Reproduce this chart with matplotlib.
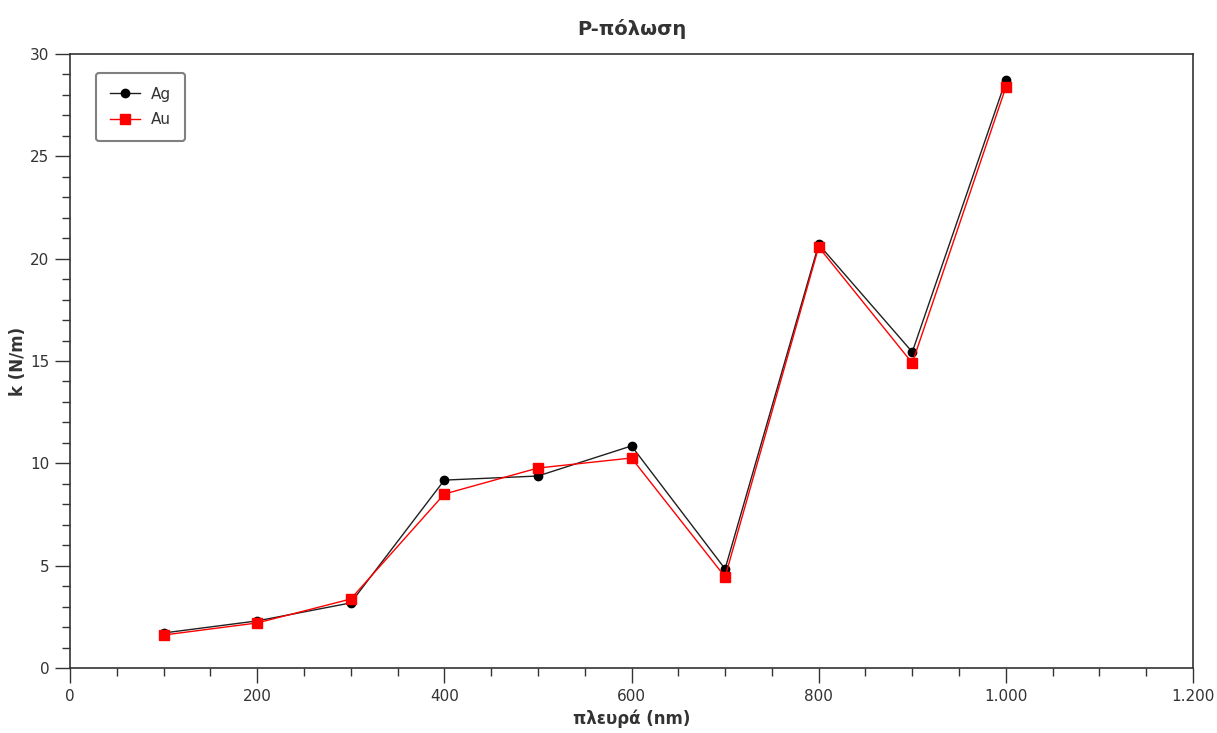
import matplotlib
matplotlib.use("Agg")
import matplotlib.pyplot as plt
from matplotlib.ticker import MultipleLocator, FuncFormatter

x_nm = [100, 200, 300, 400, 500, 600, 700, 800, 900, 1000]
ag = [1.71, 2.30, 3.18, 9.18, 9.38, 10.85, 4.84, 20.70, 15.44, 28.72]
au = [1.61, 2.20, 3.37, 8.50, 9.77, 10.26, 4.45, 20.57, 14.90, 28.38]

title = "P-πόλωση"
xlabel = "πλευρά (nm)"
ylabel = "k (N/m)"

plt.rcParams['font.family'] = ['DejaVu Sans']
fig = plt.figure(figsize=(12.17, 7.33), dpi=100)
ax = fig.add_axes([0.0575, 0.0887, 0.9228, 0.8376])

ax.plot(x_nm, ag, color='#202020', lw=1.0, marker='o', ms=6, mfc='black', mec='black', label='Ag')
ax.plot(x_nm, au, color='red', lw=1.0, marker='s', ms=7, mfc='red', mec='red', label='Au')

ax.set_xlim(0, 1200)
ax.set_ylim(0, 30)
ax.xaxis.set_major_locator(MultipleLocator(200))
ax.xaxis.set_minor_locator(MultipleLocator(50))
ax.yaxis.set_major_locator(MultipleLocator(5))
ax.yaxis.set_minor_locator(MultipleLocator(1))
ax.xaxis.set_major_formatter(FuncFormatter(lambda v, p: f"{int(v):,}".replace(",", ".")))
ax.tick_params(which='major', direction='out', length=11, width=1, colors='#333333', labelsize=11, labelcolor='#333333', pad=4)
ax.tick_params(which='minor', direction='out', length=6, width=1, colors='#333333')
for s in ax.spines.values():
    s.set_color('#333333')
    s.set_linewidth(1.2)

ax.set_title(title, fontsize=14, fontweight='bold', color='#333333', pad=14)
ax.set_xlabel(xlabel, fontsize=12, fontweight='bold', color='#333333', labelpad=4)
ax.set_ylabel(ylabel, fontsize=12, fontweight='bold', color='#333333', labelpad=2)

leg = ax.legend(loc='upper left', bbox_to_anchor=(0.023, 0.969), borderaxespad=0, fontsize=11, frameon=True,
                fancybox=True, edgecolor='#808080', framealpha=1, handlelength=2.0,
                borderpad=0.9, labelspacing=0.7, handletextpad=0.7)
leg.get_frame().set_linewidth(1.5)
for t in leg.get_texts():
    t.set_color('#333333')

fig.savefig('out.png', dpi=100)
